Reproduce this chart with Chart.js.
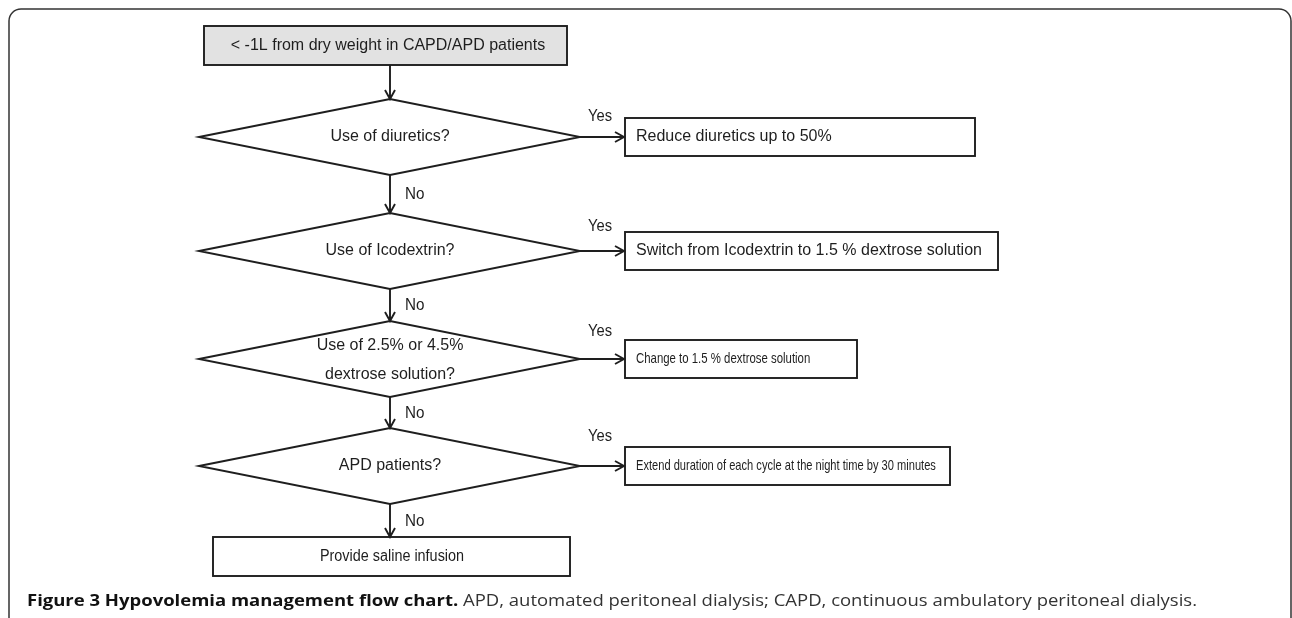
<!DOCTYPE html>
<html>
<head>
<meta charset="utf-8">
<script src="https://cdn.jsdelivr.net/npm/chart.js@4/dist/chart.umd.min.js"></script>
<style>
  html, body { margin: 0; padding: 0; background: #fff; }
  #flow { display: block; }
</style>
</head>
<body>
<canvas id="flow" width="1292" height="618"></canvas>
<script>
// flow chart content
const startLabel = "< -1L from dry weight in CAPD/APD patients";
const questions = [
  ["Use of diuretics?"],
  ["Use of Icodextrin?"],
  ["Use of 2.5% or 4.5%", "dextrose solution?"],
  ["APD patients?"],
];
const actions = [
  "Reduce diuretics up to 50%",
  "Switch from Icodextrin to 1.5 % dextrose solution",
  "Change to 1.5 % dextrose solution",
  "Extend duration of each cycle at the night time by 30 minutes",
];
const endLabel = "Provide saline infusion";
const yesLabel = "Yes";
const noLabel = "No";
const captionBold = "Figure 3 Hypovolemia management flow chart.";
const captionText = " APD, automated peritoneal dialysis; CAPD, continuous ambulatory peritoneal dialysis.";

// layout in axis units (axis = page pixels)
const layout = {
  cx: 390,
  startBox: { x1: 204, x2: 567, y1: 26, y2: 65 },
  rowY: [137, 251, 359, 466],
  diamond: { x1: 199, x2: 580, h: 38 },
  actionX1: 625,
  actionX2: [975, 998, 857, 950],
  actionH: 19,
  actionSize: [16, 16, 15, 15],
  actionSquash: [1, 1, 0.76, 0.74],
  yesDy: [-20, -24, -27, -29],
  endBox: { x1: 213, x2: 570, y1: 537, y2: 576 },
};

const INK = "#1e1e1e";
const FONT = "'Liberation Sans', Arial, sans-serif";

function arrow(ctx, x1, y1, x2, y2) {
  const a = Math.atan2(y2 - y1, x2 - x1);
  ctx.beginPath();
  ctx.moveTo(x1, y1);
  ctx.lineTo(x2, y2);
  ctx.moveTo(x2 - 9 * Math.cos(a) + 5 * Math.sin(a), y2 - 9 * Math.sin(a) - 5 * Math.cos(a));
  ctx.lineTo(x2, y2);
  ctx.lineTo(x2 - 9 * Math.cos(a) - 5 * Math.sin(a), y2 - 9 * Math.sin(a) + 5 * Math.cos(a));
  ctx.stroke();
}

function text(ctx, str, x, y, align, squash, size) {
  ctx.save();
  ctx.font = (size || 16) + "px " + FONT;
  ctx.textAlign = align;
  ctx.textBaseline = "middle";
  ctx.translate(x, y);
  ctx.scale(squash || 1, 1);
  ctx.fillText(str, 0, 0);
  ctx.restore();
}

const flowPlugin = {
  id: "flow",
  afterDatasetsDraw(chart) {
    const ctx = chart.ctx;
    const X = (v) => chart.scales.x.getPixelForValue(v);
    const Y = (v) => chart.scales.y.getPixelForValue(v);
    const L = layout;
    ctx.save();
    ctx.fillStyle = INK;

    // outer frame
    ctx.beginPath();
    ctx.lineWidth = 1.5;
    ctx.strokeStyle = "#333";
    ctx.roundRect(X(9), Y(9), X(1291) - X(9), Y(640) - Y(9), 12);
    ctx.stroke();
    ctx.strokeStyle = INK;
    ctx.lineWidth = 1.9;

    // start box
    const s = L.startBox;
    ctx.fillStyle = "#e2e2e2";
    ctx.fillRect(X(s.x1), Y(s.y1), X(s.x2) - X(s.x1), Y(s.y2) - Y(s.y1));
    ctx.strokeRect(X(s.x1), Y(s.y1), X(s.x2) - X(s.x1), Y(s.y2) - Y(s.y1));
    ctx.fillStyle = INK;
    text(ctx, startLabel, X(L.cx - 2), Y((s.y1 + s.y2) / 2), "center");
    arrow(ctx, X(L.cx), Y(s.y2), X(L.cx), Y(L.rowY[0] - L.diamond.h));

    questions.forEach((q, i) => {
      const cy = L.rowY[i];
      const d = L.diamond;
      // diamond
      ctx.beginPath();
      ctx.moveTo(X(d.x1), Y(cy));
      ctx.lineTo(X(L.cx), Y(cy - d.h));
      ctx.lineTo(X(d.x2), Y(cy));
      ctx.lineTo(X(L.cx), Y(cy + d.h));
      ctx.closePath();
      ctx.stroke();
      if (q.length === 1) {
        text(ctx, q[0], X(L.cx), Y(cy), "center");
      } else {
        text(ctx, q[0], X(L.cx), Y(cy - 13), "center");
        text(ctx, q[1], X(L.cx), Y(cy + 16), "center");
      }
      // yes branch
      arrow(ctx, X(d.x2), Y(cy), X(L.actionX1 - 1), Y(cy));
      text(ctx, yesLabel, X(600), Y(cy + L.yesDy[i]), "center", 0.92);
      const bx1 = L.actionX1, bx2 = L.actionX2[i];
      ctx.strokeRect(X(bx1), Y(cy - L.actionH), X(bx2) - X(bx1), Y(cy + L.actionH) - Y(cy - L.actionH));
      text(ctx, actions[i], X(bx1 + 11), Y(cy), "left", L.actionSquash[i], L.actionSize[i]);
      // no branch
      const nextTop = i < questions.length - 1 ? L.rowY[i + 1] - d.h : L.endBox.y1;
      arrow(ctx, X(L.cx), Y(cy + d.h), X(L.cx), Y(nextTop));
      text(ctx, noLabel, X(L.cx + 15), Y((cy + d.h + nextTop) / 2 + 1), "left", 0.95);
    });

    // end box
    const e = L.endBox;
    ctx.strokeRect(X(e.x1), Y(e.y1), X(e.x2) - X(e.x1), Y(e.y2) - Y(e.y1));
    text(ctx, endLabel, X(L.cx + 2), Y((e.y1 + e.y2) / 2), "center", 0.9);

    // caption
    ctx.textBaseline = "middle";
    ctx.textAlign = "left";
    ctx.font = "bold 16px 'Open Sans', sans-serif";
    const wb = ctx.measureText(captionBold).width;
    ctx.font = "16px 'Open Sans', sans-serif";
    const wt = ctx.measureText(captionText).width;
    const sq = (1197 - 27) / (wb + wt);
    ctx.save();
    ctx.translate(X(27), Y(601));
    ctx.scale(sq, 1);
    ctx.fillStyle = "#111";
    ctx.font = "bold 16px 'Open Sans', sans-serif";
    ctx.fillText(captionBold, 0, 0);
    ctx.fillStyle = "#333";
    ctx.font = "16px 'Open Sans', sans-serif";
    ctx.fillText(captionText, wb, 0);
    ctx.restore();
    ctx.restore();
  },
};

// node centres plotted through the scales (invisible points)
const nodePoints = [{ x: layout.cx, y: 45 }]
  .concat(layout.rowY.map((y) => ({ x: layout.cx, y: y })))
  .concat([{ x: layout.cx, y: 556 }]);

new Chart(document.getElementById("flow").getContext("2d"), {
  type: "scatter",
  data: {
    datasets: [{ label: "nodes", data: nodePoints, pointRadius: 0 }],
  },
  options: {
    responsive: false,
    animation: false,
    layout: { padding: 0 },
    plugins: { legend: { display: false }, tooltip: { enabled: false } },
    scales: {
      x: { type: "linear", min: 0, max: 1292, display: false },
      y: { type: "linear", min: 0, max: 618, reverse: true, display: false },
    },
  },
  plugins: [flowPlugin],
});
</script>
</body>
</html>
